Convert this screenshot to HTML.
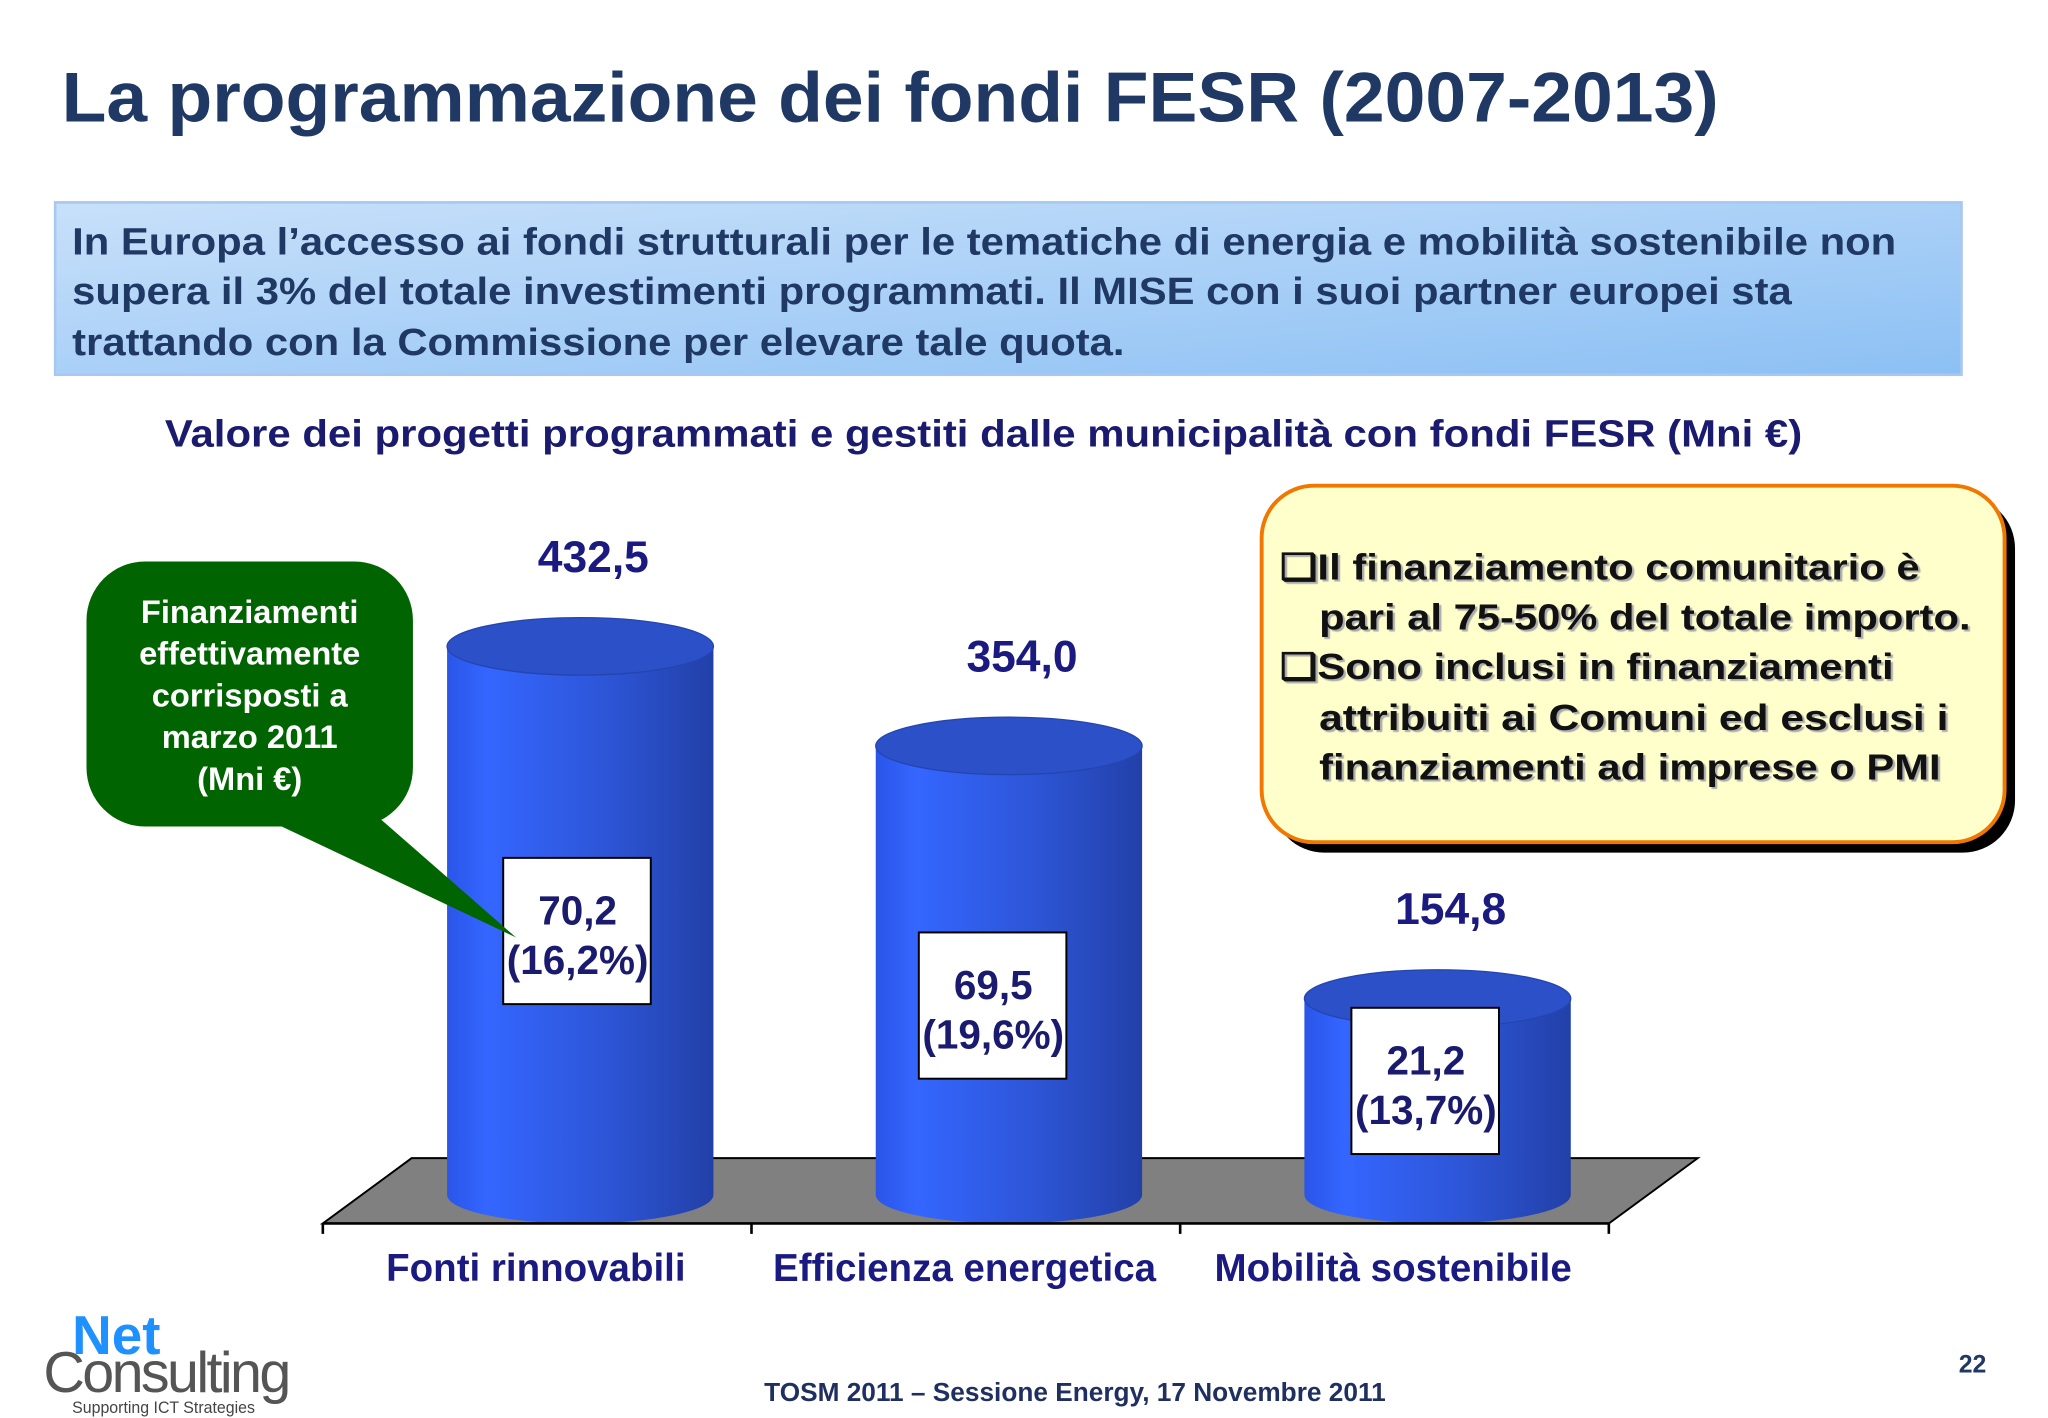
<!DOCTYPE html>
<html><head><meta charset="utf-8"><style>
html,body{margin:0;padding:0;background:#fff;}
svg{display:block;font-family:"Liberation Sans",Arial,sans-serif;}
</style></head><body>
<svg id="s" width="2048" height="1418" viewBox="0 0 1568 1086" xmlns="http://www.w3.org/2000/svg">
<defs>
<linearGradient id="hdr" x1="0" y1="0" x2="1" y2="1"><stop offset="0" stop-color="#c8e0fa"/><stop offset="1" stop-color="#8cc0f4"/></linearGradient>
<linearGradient id="cyl" x1="0" x2="1"><stop offset="0" stop-color="#2a55e8"/><stop offset="0.15" stop-color="#3466ff"/><stop offset="0.6" stop-color="#2d55d6"/><stop offset="1" stop-color="#2240a8"/></linearGradient>
</defs>
<text x="47" y="93" font-size="54" font-weight="bold" fill="#1F3864" textLength="1269" lengthAdjust="spacingAndGlyphs">La programmazione dei fondi FESR (2007-2013)</text>
<rect x="42" y="155" width="1460" height="132" fill="url(#hdr)" stroke="#a8c8f0" stroke-width="2"/>
<g font-size="29" font-weight="bold" fill="#1F3864">
<text x="55" y="195" textLength="1397" lengthAdjust="spacingAndGlyphs">In Europa l’accesso ai fondi strutturali per le tematiche di energia e mobilità sostenibile non</text>
<text x="55" y="233" textLength="1317" lengthAdjust="spacingAndGlyphs">supera il 3% del totale investimenti programmati. Il MISE con i suoi partner europei sta</text>
<text x="55" y="272" textLength="806" lengthAdjust="spacingAndGlyphs">trattando con la Commissione per elevare tale quota.</text>
</g>
<text x="126" y="342" font-size="29" font-weight="bold" fill="#1a1a6e" textLength="1254" lengthAdjust="spacingAndGlyphs">Valore dei progetti programmati e gestiti dalle municipalità con fondi FESR (Mni €)</text>
<polygon points="247,937 315,887 1300,887 1232,937" fill="#808080" stroke="#000" stroke-width="1.5"/>
<g id="bars"></g>
<line x1="247" y1="937" x2="1232" y2="937" stroke="#000" stroke-width="2"/>
<g id="ticks"></g>
<g>
<polygon points="205,628 292,628 395,718" fill="#006400"/>
<rect x="66" y="430" width="250" height="203" rx="45" fill="#006400"/>
<g font-size="25" font-weight="bold" fill="#fff" text-anchor="middle">
<text x="191" y="477">Finanziamenti</text><text x="191" y="509">effettivamente</text><text x="191" y="541">corrisposti a</text><text x="191" y="573">marzo 2011</text><text x="191" y="605">(Mni €)</text></g>
</g>
<g>
<rect x="974" y="380" width="569" height="273" rx="40" fill="#000"/>
<rect x="966" y="372" width="569" height="273" rx="40" fill="#FFFFCC" stroke="#F07800" stroke-width="3"/>
<g font-size="28" font-weight="bold" fill="#111" style="text-shadow:2px 2px 1px #aaa">
<text x="980" y="444" textLength="490" lengthAdjust="spacingAndGlyphs">❑Il finanziamento comunitario è</text>
<text x="1010" y="482" textLength="499" lengthAdjust="spacingAndGlyphs">pari al 75-50% del totale importo.</text>
<text x="980" y="520" textLength="470" lengthAdjust="spacingAndGlyphs">❑Sono inclusi in finanziamenti</text>
<text x="1010" y="559" textLength="482" lengthAdjust="spacingAndGlyphs">attribuiti ai Comuni ed esclusi  i</text>
<text x="1010" y="597" textLength="476" lengthAdjust="spacingAndGlyphs">finanziamenti ad imprese o PMI</text></g>
</g>
<g>
<text x="55" y="1037" font-size="42" font-weight="bold" fill="#1e90ff">Net</text>
<text x="33" y="1066" font-size="44" fill="#555" letter-spacing="-2">Consulting</text>
<text x="55" y="1082" font-size="13" fill="#444" textLength="140" lengthAdjust="spacingAndGlyphs">Supporting ICT Strategies</text>
</g>
<text x="823" y="1073" font-size="20" font-weight="bold" fill="#1F2F5F" text-anchor="middle" textLength="476" lengthAdjust="spacingAndGlyphs">TOSM 2011 – Sessione Energy, 17 Novembre 2011</text>
<text x="1521" y="1051" font-size="19" font-weight="bold" fill="#1F3864" text-anchor="end">22</text>
</svg>
<script>
const categories=["Fonti rinnovabili","Efficienza energetica","Mobilità sostenibile"];
const totals=[432.5,354.0,154.8];
const totalLabels=["432,5","354,0","154,8"];
const paid=["70,2","69,5","21,2"];
const paidPct=["(16,2%)","(19,6%)","(13,7%)"];
const NS="http://www.w3.org/2000/svg";
const baseY=915, pxPer=0.971, x0=247, band=328.3;
const yS=v=>baseY-v*pxPer;
const xC=i=>x0+band*(i+0.5)+33;
const boxDx=[-2,-12,-9];
const boxDy=[8,27,-12];
function mk(t,a,p){const e=document.createElementNS(NS,t);for(const k in a)e.setAttribute(k,a[k]);(p||document.getElementById('bars')).appendChild(e);return e;}
const bars=document.getElementById('bars'),ticks=document.getElementById('ticks');
categories.forEach((c,i)=>{
 const cx=xC(i),w=204,rx=w/2,ry=22,top=yS(totals[i]);
 const g=mk('g',{},bars);
 
 
 mk('path',{d:`M${cx-rx},${top} L${cx-rx},${baseY} A${rx},${ry} 0 0 0 ${cx+rx},${baseY} L${cx+rx},${top} Z`,fill:'url(#cyl)'},g);
 mk('ellipse',{cx:cx,cy:top,rx:rx,ry:ry,fill:'#2b50c8',stroke:'#2445b0','stroke-width':1},g);
 const t=mk('text',{x:cx+10,y:top-57,'font-size':34,'font-weight':'bold',fill:'#1a1a80','text-anchor':'middle'},g);
 t.textContent=totalLabels[i];
 
 
 const mid=(top+baseY)/2+boxDy[i];
 const bcx=cx+boxDx[i];
 const bx=mk('rect',{x:bcx-57,y:mid-56,width:113,height:112,fill:'#fff',stroke:'#000','stroke-width':1.5},g);
 
 
 const a=mk('text',{x:bcx,y:mid-5,'font-size':31,'font-weight':'bold',fill:'#1a1a6e','text-anchor':'middle'},g);a.textContent=paid[i];
 const b=mk('text',{x:bcx,y:mid+33,'font-size':31,'font-weight':'bold',fill:'#1a1a6e','text-anchor':'middle'},g);b.textContent=paidPct[i];
 const l=mk('text',{x:x0+band*(i+0.5)-1,y:981,'font-size':29.5,'font-weight':'bold',fill:'#1a1a80','text-anchor':'middle'},ticks);
 l.textContent=c;
 
 
});
for(let i=0;i<=categories.length;i++){
 const tk=mk('line',{x1:x0+band*i,y1:937,x2:x0+band*i,y2:945,stroke:'#000','stroke-width':2},ticks);
 
 
}
</script>
</body></html>
